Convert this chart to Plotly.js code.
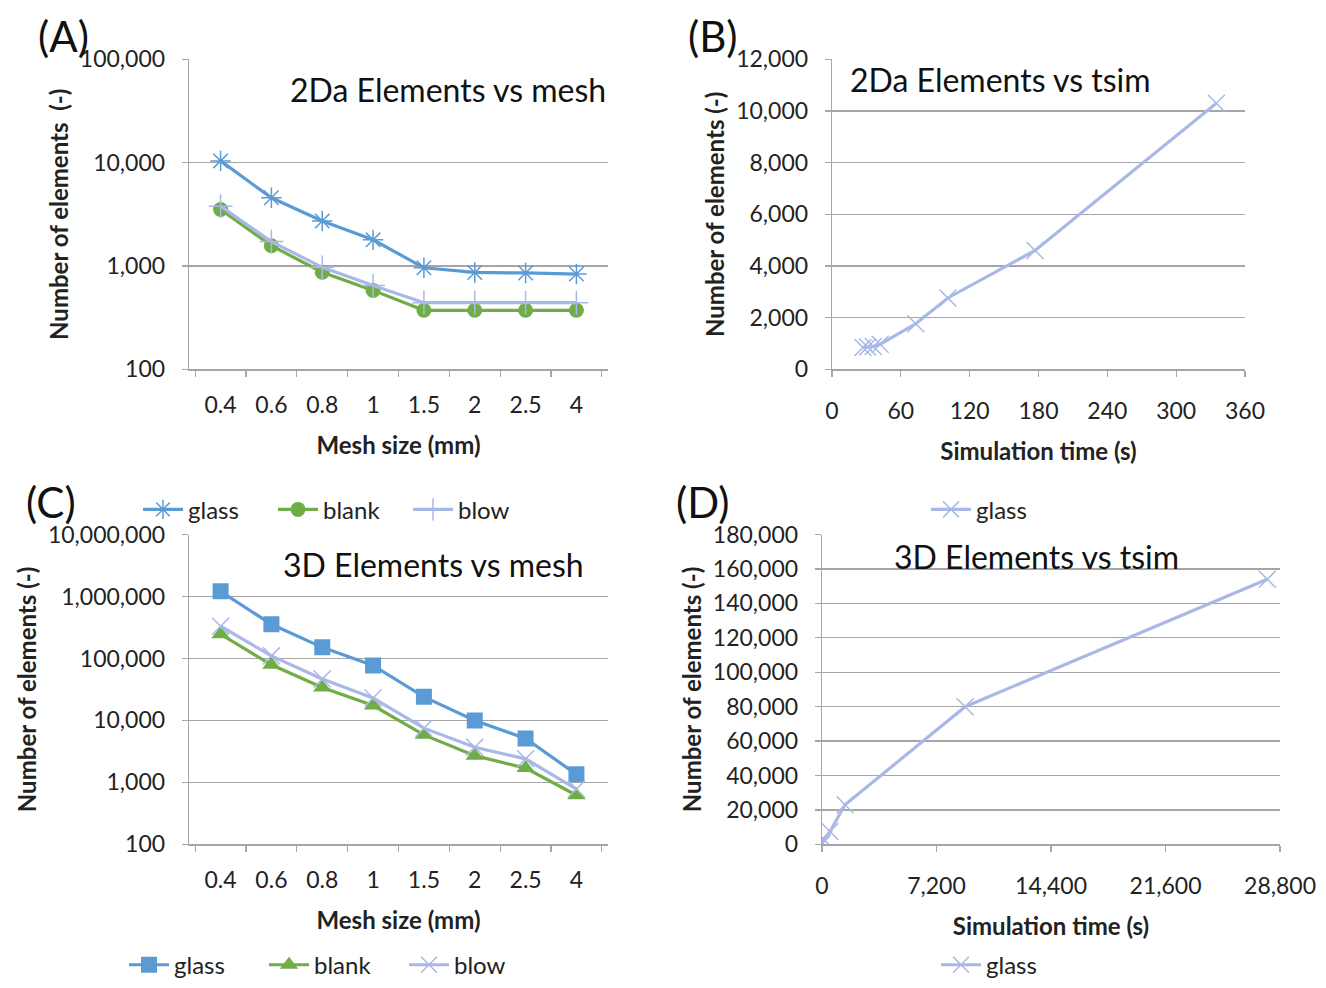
<!DOCTYPE html>
<html>
<head>
<meta charset="utf-8">
<script src="https://cdn.plot.ly/plotly-3.0.1.min.js"></script>
<style>html,body{margin:0;padding:0;background:#fff;}#chart{width:1326px;height:988px;}</style>
</head>
<body>
<div id="chart"></div>
<script>
// ---- data ----
var meshSizes = ["0.4", "0.6", "0.8", "1", "1.5", "2", "2.5", "4"];

// (A) 2Da elements vs mesh
var a2dGlass = [10400, 4570, 2720, 1790, 960, 865, 855, 835];
var a2dBlank = [3520, 1570, 870, 580, 372, 372, 372, 372];
var a2dBlow  = [3790, 1720, 970, 646, 441, 441, 441, 441];

// (B) 2Da elements vs simulation time (glass)
var b2dTime  = [335, 177, 101, 73, 42, 36, 31, 27];
var b2dElems = [10300, 4600, 2760, 1760, 970, 880, 860, 840];

// (C) 3D elements vs mesh
var c3dGlass = [1210000, 356000, 151000, 77000, 24000, 10000, 5100, 1350];
var c3dBlank = [246000, 79000, 34000, 17400, 5850, 2700, 1700, 620];
var c3dBlow  = [331000, 110000, 46600, 23000, 7500, 3700, 2400, 780];

// (D) 3D elements vs simulation time (glass)
var d3dTime  = [28000, 9000, 1450, 500, 120, 30];
var d3dElems = [154000, 80000, 23000, 7500, 2800, 600];

var yTicksA = [100, 1000, 10000, 100000];
var yTickTextA = ["100", "1,000", "10,000", "100,000"];
var yTicksC = [100, 1000, 10000, 100000, 1000000, 10000000];
var yTickTextC = ["100", "1,000", "10,000", "100,000", "1,000,000", "10,000,000"];

// ---- styling ----
var W = 1326, H = 988;
function xd(a, b) { return [a / W, b / W]; }
function yd(top, bot) { return [1 - bot / H, 1 - top / H]; }
var FONT = "Lato, 'Open Sans', sans-serif";
var cGlass = "#5b9bd5", cBlank = "#70ad47", cBlow = "#a9b8e6";
var gridC = "#a6a6a6";
var tickFont = {family: FONT, size: 23, color: "#222"};
var titleFont = {family: FONT, size: 24, color: "#222", weight: "bold"};

function baseAxis(extra) {
  var o = {
    showline: true, linecolor: gridC, linewidth: 1.3,
    gridcolor: gridC, gridwidth: 1.3,
    ticks: "outside", ticklen: 6, tickcolor: gridC, tickwidth: 1.3,
    tickfont: tickFont, zeroline: false, fixedrange: true,
    ticklabelstandoff: 12
  };
  for (var k in extra) o[k] = extra[k];
  return o;
}
function xAxis(extra) {
  var o = baseAxis(extra);
  o.ticklabelstandoff = 15;
  o.showgrid = false;
  return o;
}

function line(x, y, name, color, symbol, msize, xa, ya, legend, mline) {
  return {
    x: x, y: y, name: name, type: "scatter", mode: "lines+markers",
    xaxis: xa, yaxis: ya, legend: legend,
    line: {color: color, width: 3.2},
    marker: {symbol: symbol, size: msize, color: color,
             line: {color: color, width: mline}},
    hoverinfo: "x+y"
  };
}

var traces = [
  line(meshSizes, a2dGlass, "glass", cGlass, "asterisk-open", 17, "x", "y", "legend", 1.5),
  line(meshSizes, a2dBlank, "blank", cBlank, "circle", 15, "x", "y", "legend", 0),
  line(meshSizes, a2dBlow, "blow", cBlow, "cross-thin-open", 17, "x", "y", "legend", 1.5),
  line(b2dTime, b2dElems, "glass", cBlow, "x-thin-open", 17, "x2", "y2", "legend2", 1.5),
  line(meshSizes, c3dGlass, "glass", cGlass, "square", 16, "x3", "y3", "legend3", 0),
  line(meshSizes, c3dBlank, "blank", cBlank, "triangle-up", 16, "x3", "y3", "legend3", 0),
  line(meshSizes, c3dBlow, "blow", cBlow, "x-thin-open", 17, "x3", "y3", "legend3", 1.5),
  line(d3dTime, d3dElems, "glass", cBlow, "x-thin-open", 17, "x4", "y4", "legend4", 1.5)
];

function legendAt(x, y, ew) {
  var o = {orientation: "h", x: x / W, y: 1 - y / H, xanchor: "left", yanchor: "middle",
          font: {family: FONT, size: 24, color: "#222"}, bgcolor: "rgba(0,0,0,0)",
          itemwidth: 40, tracegroupgap: 0};
  if (ew) { o.entrywidth = ew; o.entrywidthmode = "pixels"; }
  return o;
}

var layout = {
  width: W, height: H,
  margin: {l: 0, r: 0, t: 0, b: 0},
  paper_bgcolor: "#fff", plot_bgcolor: "#fff",
  font: {family: FONT},
  hovermode: false,
  xaxis: xAxis({domain: xd(189, 608), anchor: "y", type: "category",
    tickson: "boundaries",
    title: {text: "Mesh size (mm)", font: titleFont, standoff: 20}}),
  yaxis: baseAxis({domain: yd(60, 373), anchor: "x", type: "log",
    range: [2, 5], tickvals: yTicksA, ticktext: yTickTextA,
    title: {text: "Number of elements  (-)", font: titleFont, standoff: 4}}),
  xaxis2: xAxis({domain: xd(832, 1245), anchor: "y2", range: [0, 360],
    tickvals: [0, 60, 120, 180, 240, 300, 360],
    title: {text: "Simulation time (s)", font: titleFont, standoff: 20}}),
  yaxis2: baseAxis({domain: yd(60, 373), anchor: "x2", range: [0, 12000],
    dtick: 2000, tickformat: ",d",
    title: {text: "Number of elements (-)", font: titleFont, standoff: 4}}),
  xaxis3: xAxis({domain: xd(189, 608), anchor: "y3", type: "category",
    tickson: "boundaries",
    title: {text: "Mesh size (mm)", font: titleFont, standoff: 20}}),
  yaxis3: baseAxis({domain: yd(540, 853), anchor: "x3", type: "log",
    range: [2, 7], tickvals: yTicksC, ticktext: yTickTextC,
    title: {text: "Number of elements (-)", font: titleFont, standoff: 4}}),
  xaxis4: xAxis({domain: xd(822, 1280), anchor: "y4", range: [0, 28800],
    tickvals: [0, 7200, 14400, 21600, 28800], tickformat: ",d",
    title: {text: "Simulation time (s)", font: titleFont, standoff: 20}}),
  yaxis4: baseAxis({domain: yd(540, 853), anchor: "x4", range: [0, 180000],
    dtick: 20000, tickformat: ",d",
    title: {text: "Number of elements (-)", font: titleFont, standoff: 4}}),
  legend: legendAt(138, 515, 80),
  legend2: legendAt(926, 515),
  legend3: legendAt(124, 975, 85),
  legend4: legendAt(936, 975),
  annotations: [
    {text: "(A)", x: 36 / W, y: 1 - 36 / H, xref: "paper", yref: "paper", xanchor: "left", yanchor: "middle", showarrow: false, font: {family: FONT, size: 42, color: "#111"}},
    {text: "(B)", x: 686 / W, y: 1 - 36 / H, xref: "paper", yref: "paper", xanchor: "left", yanchor: "middle", showarrow: false, font: {family: FONT, size: 42, color: "#111"}},
    {text: "(C)", x: 24 / W, y: 1 - 507 / H, xref: "paper", yref: "paper", xanchor: "left", yanchor: "middle", showarrow: false, font: {family: FONT, size: 42, color: "#111"}},
    {text: "(D)", x: 674 / W, y: 1 - 507 / H, xref: "paper", yref: "paper", xanchor: "left", yanchor: "middle", showarrow: false, font: {family: FONT, size: 42, color: "#111"}},
    {text: "2Da Elements vs mesh", x: 608 / W, y: 1 - 90 / H, xref: "paper", yref: "paper", xanchor: "right", yanchor: "middle", showarrow: false, font: {family: FONT, size: 32, color: "#111"}},
    {text: "2Da Elements vs tsim", x: 848 / W, y: 1 - 80 / H, xref: "paper", yref: "paper", xanchor: "left", yanchor: "middle", showarrow: false, font: {family: FONT, size: 32, color: "#111"}},
    {text: "3D Elements vs mesh", x: 586 / W, y: 1 - 570 / H, xref: "paper", yref: "paper", xanchor: "right", yanchor: "middle", showarrow: false, font: {family: FONT, size: 32, color: "#111"}},
    {text: "3D Elements vs tsim", x: 892 / W, y: 1 - 562 / H, xref: "paper", yref: "paper", xanchor: "left", yanchor: "middle", showarrow: false, font: {family: FONT, size: 32, color: "#111"}}
  ]
};

Plotly.newPlot("chart", traces, layout, {staticPlot: true, displayModeBar: false});
</script>
</body>
</html>
